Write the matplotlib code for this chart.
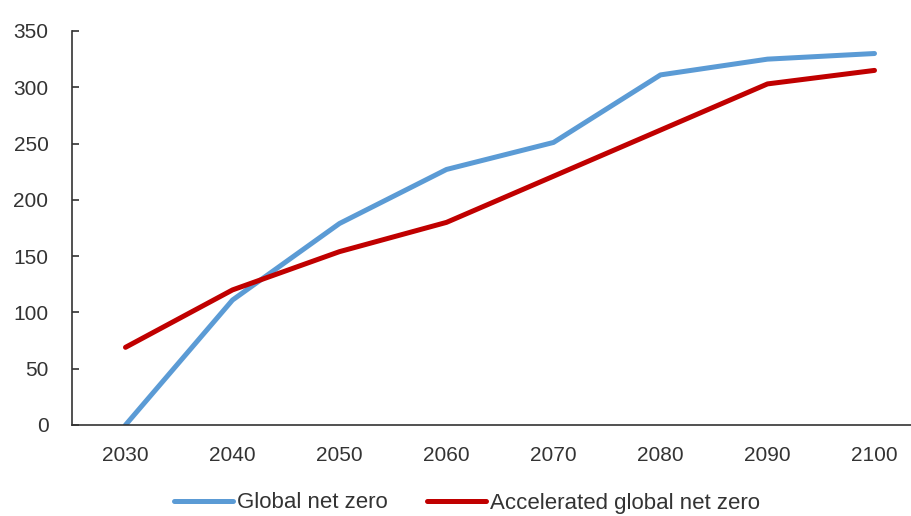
import numpy as np
import matplotlib.pyplot as plt

plt.rcParams['font.family'] = ['Liberation Sans', 'DejaVu Sans']

years = ['2030', '2040', '2050', '2060', '2070', '2080', '2090', '2100']
global_net_zero = [0, 111, 179, 227, 251, 311, 325, 330]
accelerated_net_zero = [69, 120, 154, 180, 221, 262, 303, 315]

fig = plt.figure(figsize=(9.11, 5.16), dpi=100)
# axes run past the right edge, as in the cropped original
ax = fig.add_axes([72/911, 91/516, 856/911, 394/516])

x = np.arange(len(years))
ax.plot(x, global_net_zero, color='#5B9BD5', lw=3.6, solid_capstyle='round',
        solid_joinstyle='round', label='Global net zero')
ax.plot(x, accelerated_net_zero, color='#C00000', lw=3.6, solid_capstyle='round',
        solid_joinstyle='round', label='Accelerated global net zero')

ax.set_xlim(-0.5, len(years) - 0.5)
ax.set_ylim(0, 350)
ax.set_yticks(np.arange(0, 351, 50))
ax.set_xticks(x)
ax.set_xticklabels(years)

for s in ['top', 'right']:
    ax.spines[s].set_visible(False)
for s in ['left', 'bottom']:
    ax.spines[s].set_color('#333333')
    ax.spines[s].set_linewidth(1.2)

ax.tick_params(axis='y', direction='in', length=5, width=1.2, color='#333333',
               pad=17, labelsize=15, labelcolor='#333333')
ax.tick_params(axis='x', length=0, pad=15, labelsize=15, labelcolor='#333333')

fig.legend(loc='center', bbox_to_anchor=(467/911, 13/516), ncol=2, frameon=False,
           fontsize=16, handlelength=2.65, handletextpad=0.15, columnspacing=1.8,
           labelcolor='#333333', borderpad=0)

fig.savefig('out.png', dpi=100)
